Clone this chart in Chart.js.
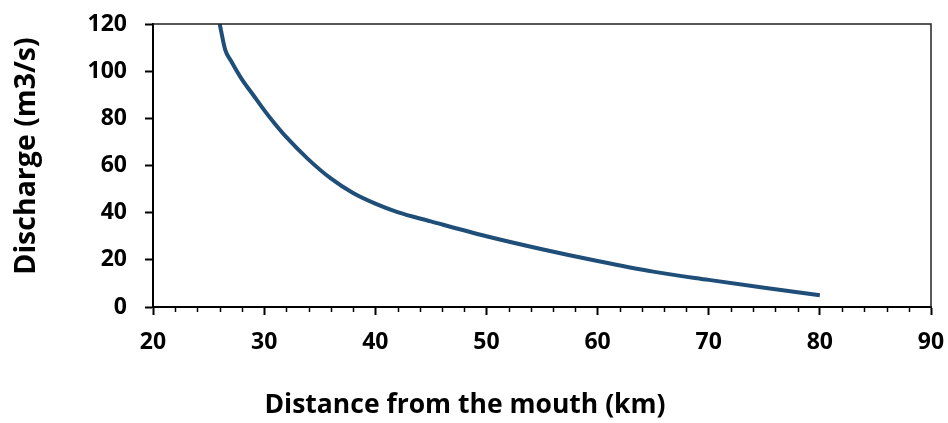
<!DOCTYPE html>
<html>
<head>
<meta charset="utf-8">
<script src="https://cdn.jsdelivr.net/npm/chart.js@4.4.0/dist/chart.umd.min.js"></script>
<style>
  html, body { margin: 0; padding: 0; background: #fff; }
  #wrap { width: 948px; height: 423px; position: relative; }
</style>
</head>
<body>
<div id="wrap"><canvas id="dischargeChart"></canvas></div>
<script>
// distance from the mouth (km) and discharge (m3/s)
const distanceKm = [26, 26.5, 27, 28, 29, 30, 31, 32, 34, 36, 38, 40, 42, 45, 50, 55, 60, 65, 70, 75, 80];
const dischargeM3s = [120, 109, 104.5, 96.5, 90, 83.5, 77.5, 72, 62.5, 54.5, 48.3, 43.8, 40.2, 36.3, 30, 24.5, 19.5, 15, 11.5, 8.2, 5];

const xTickMin = 20, xTickMax = 90, xMajorStep = 10, xMinorStep = 2;
const yTickMin = 0, yTickMax = 120, yStep = 20;

const xTitle = 'Distance from the mouth (km)';
const yTitle = 'Discharge (m3/s)';

const FONT = '"Open Sans", "DejaVu Sans", sans-serif';

// plot frame, minor ticks on x and the two axis titles
const framePlugin = {
    id: 'framePlugin',
    afterDraw(chart) {
        const ctx = chart.ctx;
        const a = chart.chartArea;
        const xs = chart.scales.x;
        ctx.save();
        // thin top / right border
        ctx.strokeStyle = '#222';
        ctx.lineWidth = 1.5;
        ctx.beginPath();
        ctx.moveTo(a.left, a.top);
        ctx.lineTo(a.right, a.top);
        ctx.lineTo(a.right, a.bottom);
        ctx.stroke();
        // minor ticks
        ctx.strokeStyle = '#000';
        ctx.lineWidth = 1.5;
        for (let v = xTickMin; v <= xTickMax; v += xMinorStep) {
            if (v % xMajorStep === 0) continue;
            const px = Math.round(xs.getPixelForValue(v)) + 0.5;
            ctx.beginPath();
            ctx.moveTo(px, a.bottom);
            ctx.lineTo(px, a.bottom + 5);
            ctx.stroke();
        }
        // axis titles
        ctx.fillStyle = '#000';
        ctx.textAlign = 'center';
        ctx.textBaseline = 'middle';
        ctx.font = 'bold 26.5px ' + FONT;
        ctx.fillText(xTitle, 465, 405);
        ctx.font = 'bold 28.5px ' + FONT;
        ctx.translate(27, 156);
        ctx.rotate(-Math.PI / 2);
        ctx.fillText(yTitle, 0, 0);
        ctx.restore();
    }
};

const ctx = document.getElementById('dischargeChart').getContext('2d');
new Chart(ctx, {
    type: 'line',
    data: {
        datasets: [{
            label: 'Discharge',
            data: distanceKm.map((d, i) => ({ x: d, y: dischargeM3s[i] })),
            borderColor: '#1F4E79',
            borderWidth: 4,
            pointRadius: 0,
            cubicInterpolationMode: 'monotone',
            fill: false
        }]
    },
    options: {
        responsive: true,
        maintainAspectRatio: false,
        animation: false,
        layout: {
            padding: { left: 0, right: 17, top: 24, bottom: 0 }
        },
        scales: {
            x: {
                type: 'linear',
                min: xTickMin,
                max: xTickMax,
                afterFit: scale => {
                    scale.height = 116;
                    scale.paddingLeft = 0;
                    scale.paddingRight = 0;
                },
                ticks: {
                    stepSize: xMajorStep,
                    color: '#000',
                    padding: 14,
                    maxRotation: 0,
                    font: { family: FONT, size: 23, weight: 'bold' }
                },
                grid: {
                    drawOnChartArea: false,
                    drawTicks: true,
                    tickLength: 8,
                    tickColor: '#000',
                    tickWidth: 2
                },
                border: { color: '#000', width: 2 }
            },
            y: {
                min: yTickMin,
                max: yTickMax,
                afterFit: scale => {
                    scale.width = 153;
                    scale.paddingTop = 0;
                    scale.paddingBottom = 0;
                },
                ticks: {
                    stepSize: yStep,
                    color: '#000',
                    padding: 18,
                    font: { family: FONT, size: 23, weight: 'bold' }
                },
                grid: {
                    drawOnChartArea: false,
                    drawTicks: true,
                    tickLength: 8,
                    tickColor: '#000',
                    tickWidth: 2
                },
                border: { color: '#000', width: 2 }
            }
        },
        plugins: {
            legend: { display: false },
            tooltip: { enabled: false }
        }
    },
    plugins: [framePlugin]
});
</script>
</body>
</html>
